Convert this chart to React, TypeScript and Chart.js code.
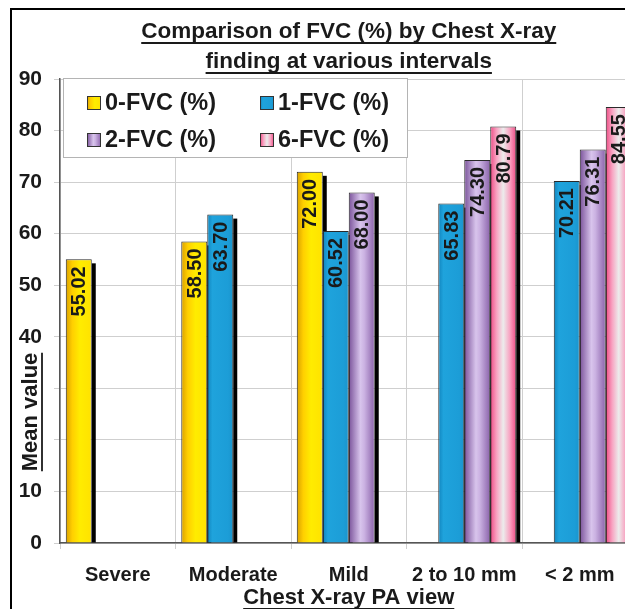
import React, { useEffect, useRef } from "react";
import { Chart, registerables } from "chart.js";

Chart.register(...registerables);

const categories = ["Severe", "Moderate", "Mild", "2 to 10 mm", "< 2 mm"];
const seriesNames = ["0-FVC (%)", "1-FVC (%)", "2-FVC (%)", "6-FVC (%)"];
const fvc0 = [55.02, 58.5, 72.0, null, null];
const fvc1 = [null, 63.7, 60.52, 65.83, 70.21];
const fvc2 = [null, null, 68.0, 74.3, 76.31];
const fvc6 = [null, null, null, 80.79, 84.55];
const yTicks = [0, 10, 20, 30, 40, 50, 60, 70, 80, 90];
const titleLines = ["Comparison of FVC (%) by Chest X-ray", "finding at various intervals"];
const xTitle = "Chest X-ray PA view";
const yTitle = "Mean value";

const FONT = '"Liberation Sans", Arial, sans-serif';
const TEXT = "#1a1a1a";

const solidColors = ["#ffe000", "#1aa0dc", "#a888c8", "#f5a8c2"];
const gradStops: [number, string][][] = [
  [[0, "#d9a000"], [0.25, "#ffcf00"], [0.55, "#ffec00"], [1, "#ffe200"]],
  [[0, "#1184bd"], [0.2, "#1fa3dc"], [0.8, "#1c9dd7"], [1, "#1a94cc"]],
  [[0, "#7a529a"], [0.45, "#d8c4ec"], [0.6, "#cbb2e2"], [1, "#8a62aa"]],
  [[0, "#ee4a84"], [0.25, "#f8a4c2"], [0.5, "#ececec"], [0.75, "#f8a4c2"], [1, "#ee4a84"]],
];

const barDecor = {
  id: "barDecor",
  beforeDatasetsDraw(chart: any) {
    const ctx = chart.ctx;
    ctx.save();
    ctx.fillStyle = "#000";
    chart.data.datasets.forEach((ds: any, di: number) => {
      const meta = chart.getDatasetMeta(di);
      meta.data.forEach((el: any, i: number) => {
        const v = ds.data[i];
        if (v === null || v === undefined) return;
        const left = el.x - el.width / 2;
        const right = el.x + el.width / 2;
        ctx.fillRect(right, el.y + 4, 4, el.base - el.y - 4);
        const g = ctx.createLinearGradient(left, 0, right, 0);
        gradStops[di].forEach(([o, c]) => g.addColorStop(o, c));
        el.options = Object.assign({}, el.options, { backgroundColor: g });
      });
    });
    ctx.restore();
  },
  afterDatasetsDraw(chart: any) {
    const ctx = chart.ctx;
    ctx.save();
    ctx.fillStyle = TEXT;
    ctx.font = `bold 20px ${FONT}`;
    ctx.textAlign = "right";
    ctx.textBaseline = "middle";
    chart.data.datasets.forEach((ds: any, di: number) => {
      const meta = chart.getDatasetMeta(di);
      meta.data.forEach((el: any, i: number) => {
        const v = ds.data[i];
        if (v === null || v === undefined) return;
        ctx.save();
        ctx.translate(el.x, el.y + 7);
        ctx.rotate(-Math.PI / 2);
        ctx.fillText(v.toFixed(2), 0, 1);
        ctx.restore();
      });
    });
    ctx.restore();
  },
  afterDraw(chart: any) {
    const ctx = chart.ctx;
    const ca = chart.chartArea;
    const cx = (ca.left + ca.right) / 2;
    ctx.save();
    ctx.fillStyle = TEXT;
    ctx.strokeStyle = TEXT;
    ctx.font = `bold 22.5px ${FONT}`;
    ctx.textAlign = "center";
    ctx.textBaseline = "middle";
    const ty = [32, 62];
    titleLines.forEach((t, k) => {
      ctx.fillText(t, cx, ty[k]);
      const w = ctx.measureText(t).width;
      ctx.lineWidth = 1.8;
      ctx.beginPath();
      ctx.moveTo(cx - w / 2, ty[k] + 11);
      ctx.lineTo(cx + w / 2, ty[k] + 11);
      ctx.stroke();
    });
    ctx.font = `bold 22px ${FONT}`;
    ctx.fillText(xTitle, cx, 598);
    {
      const w = ctx.measureText(xTitle).width;
      ctx.beginPath();
      ctx.moveTo(cx - w / 2, 609);
      ctx.lineTo(cx + w / 2, 609);
      ctx.stroke();
    }
    // y title; its opaque box hides the tick labels it overlaps
    ctx.save();
    ctx.translate(31, 412);
    ctx.rotate(-Math.PI / 2);
    {
      const w = ctx.measureText(yTitle).width;
      ctx.fillStyle = "#ffffff";
      ctx.fillRect(-42, -14, 80, 28);
      ctx.fillStyle = TEXT;
      ctx.fillText(yTitle, 0, 0);
      ctx.beginPath();
      ctx.moveTo(-w / 2, 11);
      ctx.lineTo(w / 2, 11);
      ctx.stroke();
    }
    ctx.restore();
    // legend
    const lx = 63, ly = 78, lw = 344, lh = 79;
    ctx.fillStyle = "#ffffff";
    ctx.fillRect(lx, ly, lw, lh);
    ctx.lineWidth = 1;
    ctx.strokeStyle = "#b4b4b4";
    ctx.strokeRect(lx + 0.5, ly + 0.5, lw, lh);
    const cols = [87, 260];
    const rows = [103, 140];
    ctx.font = `bold 23.5px ${FONT}`;
    ctx.textAlign = "left";
    ctx.textBaseline = "middle";
    seriesNames.forEach((name, k) => {
      const x = cols[k % 2];
      const y = rows[Math.floor(k / 2)];
      const g = ctx.createLinearGradient(x, 0, x + 14, 0);
      gradStops[k].forEach(([o, c]) => g.addColorStop(o, c));
      ctx.fillStyle = g;
      ctx.fillRect(x, y - 7, 14, 14);
      ctx.strokeStyle = "#333";
      ctx.strokeRect(x + 0.5, y - 6.5, 13, 13);
      ctx.fillStyle = TEXT;
      ctx.fillText(name, x + 18, y + 1);
    });
    ctx.restore();
  },
};

export default function App() {
  const ref = useRef<HTMLCanvasElement | null>(null);
  useEffect(() => {
    if (!ref.current) return;
    const W = 700, H = 650;
    const chart = new Chart(ref.current, {
      type: "bar",
      data: {
        labels: categories,
        datasets: [fvc0, fvc1, fvc2, fvc6].map((d, k) => ({
          label: seriesNames[k],
          data: d,
          backgroundColor: solidColors[k],
          borderColor: "#2a2a2a",
          borderWidth: 1,
          categoryPercentage: 0.9,
          barPercentage: 1.0,
        })),
      },
      options: {
        responsive: false,
        animation: false,
        layout: { padding: { left: 0, top: 79, right: W - 637.5, bottom: 0 } },
        plugins: {
          legend: { display: false },
          title: { display: false },
          tooltip: { enabled: false },
        },
        scales: {
          x: {
            offset: true,
            grid: { offset: true, color: "#cfcfcf", tickLength: 6, lineWidth: 1 },
            border: { color: "#555", width: 1.5 },
            ticks: {
              font: { family: FONT, size: 20, weight: "bold" },
              color: TEXT,
              padding: 14,
              maxRotation: 0,
              autoSkip: false,
            },
            afterFit: (s: any) => {
              s.height = H - 543;
              s.paddingLeft = 0;
              s.paddingRight = 0;
            },
          },
          y: {
            min: 0,
            max: 90,
            afterBuildTicks: (s: any) => {
              s.ticks = yTicks.map((v) => ({ value: v }));
            },
            grid: { color: "#cfcfcf", tickLength: 6, lineWidth: 1 },
            border: { color: "#555", width: 1.5 },
            ticks: {
              font: { family: FONT, size: 21, weight: "bold" },
              color: TEXT,
              padding: 12,
            },
            afterFit: (s: any) => {
              s.width = 60;
              s.paddingTop = 0;
              s.paddingBottom = 0;
            },
          },
        },
      } as any,
      plugins: [barDecor],
    });
    return () => chart.destroy();
  }, []);
  return (
    <div
      style={{
        position: "fixed",
        left: 0,
        top: 0,
        width: 625,
        height: 609,
        overflow: "hidden",
        background: "#fff",
      }}
    >
      <div
        style={{
          position: "absolute",
          left: 10,
          top: 8,
          width: 720,
          height: 720,
          border: "2px solid #000",
        }}
      />
      <canvas
        ref={ref}
        width={700}
        height={650}
        style={{ position: "absolute", left: 0, top: 0, width: 700, height: 650, display: "block" }}
      />
    </div>
  );
}
